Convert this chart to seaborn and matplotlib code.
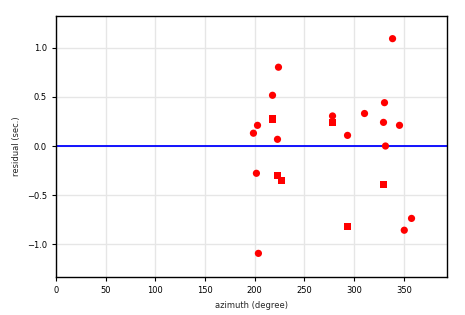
import matplotlib
matplotlib.use("Agg")
import matplotlib.pyplot as plt
import seaborn as sns
import pandas as pd

circle_az = [223.9, 217.9, 202.8, 198.7, 222.9, 278.3, 293.4, 310.5, 330.6, 329.6, 345.7, 331.6, 338.7,
             201.7, 357.8, 350.5, 203.7]
circle_res = [0.80, 0.515, 0.21, 0.13, 0.068, 0.305, 0.108, 0.33, 0.44, 0.24, 0.21, 0.0, 1.09,
              -0.277, -0.735, -0.855, -1.09]
square_az = [217.9, 278.3, 222.9, 226.9, 329.6, 293.4]
square_res = [0.274, 0.24, -0.30, -0.35, -0.39, -0.815]

df = pd.DataFrame({
    "azimuth": circle_az + square_az,
    "residual": circle_res + square_res,
    "kind": ["P"] * len(circle_az) + ["S"] * len(square_az),
})

sns.set_style("ticks")
plt.rcParams['font.family'] = ['DejaVu Sans']

fig = plt.figure(figsize=(4.65, 3.15), dpi=100)
ax = fig.add_axes([56/465, 1 - 277/315, (446.5-56)/465, (277-16)/315])

ax.grid(True, color="#e6e6e6", linewidth=1.0)
ax.set_axisbelow(True)
ax.axhline(0, color="blue", linewidth=1.3, zorder=2)

sns.scatterplot(data=df, x="azimuth", y="residual", style="kind",
                markers={"P": "o", "S": "s"}, color="red", s=27,
                edgecolor="none", linewidth=0, legend=False, ax=ax, zorder=3)

ax.set_xlim(0, 393)
ax.set_ylim(-1.33, 1.32)
ax.set_xticks([0, 50, 100, 150, 200, 250, 300, 350])
ax.set_yticks([-1.0, -0.5, 0.0, 0.5, 1.0])
ax.set_xlabel("azimuth (degree)", fontsize=6)
ax.set_ylabel("residual (sec.)", fontsize=6)
ax.tick_params(labelsize=6, length=3, width=0.8, colors="black")
for sp in ax.spines.values():
    sp.set_color("black")
    sp.set_linewidth(1.0)

fig.savefig("out.png", dpi=100)
